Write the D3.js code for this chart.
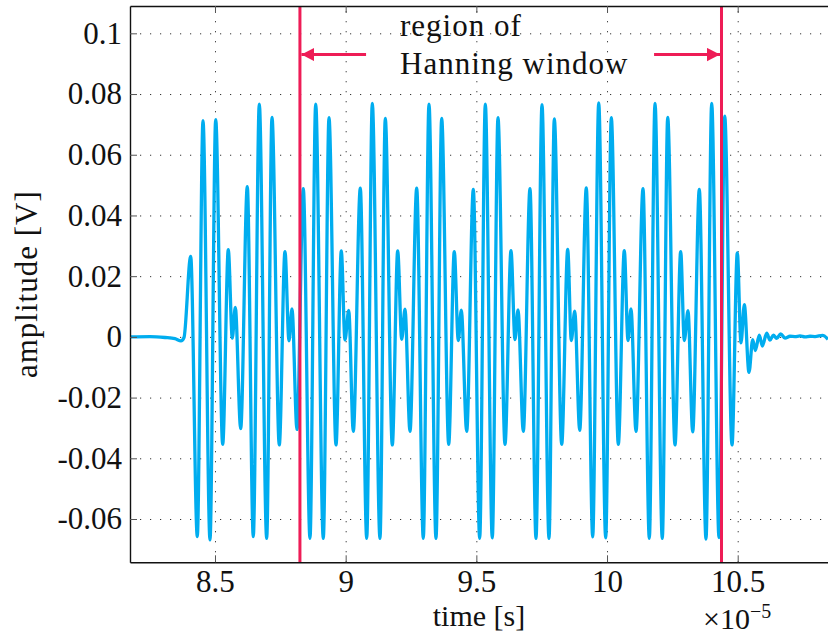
<!DOCTYPE html>
<html>
<head>
<meta charset="utf-8">
<script src="https://cdn.jsdelivr.net/npm/d3@7"></script>
<style>
  body { margin: 0; background: #fff; }
  svg { font-family: "Liberation Serif", "Times New Roman", serif; }
  .grid line { stroke: #333; stroke-width: 1; stroke-dasharray: 1.2,8.8; }
  .grid path { display: none; }
  .axis path { stroke: #111; stroke-width: 1.4; }
  .axis line { stroke: #555; stroke-width: 1; }
  .axis text { font-size: 31px; fill: #111; font-family: "Liberation Serif", serif; }
</style>
</head>
<body>
<svg id="chart"></svg>
<script>
// time values (x 1e-5 s)
const timeValues = [
  8.1748, 8.2513, 8.3087, 8.3469, 8.3699, 8.3814,
  8.4070, 8.4323, 8.4541, 8.4809, 8.5027, 8.5295, 8.5509, 8.5662, 8.5777, 8.5983,
  8.6236, 8.6465, 8.6695, 8.6978, 8.7181, 8.7460, 8.7678, 8.7831, 8.7946, 8.8138,
  8.8379, 8.8635, 8.8853, 8.9144, 8.9362, 8.9630, 8.9833, 8.9974, 9.0116, 9.0292,
  9.0560, 9.0805, 9.1019, 9.1313, 9.1516, 9.1784, 9.1991, 9.2144, 9.2270, 9.2461,
  9.2718, 9.2970, 9.3188, 9.3456, 9.3674, 9.3942, 9.4156, 9.4309, 9.4424, 9.4631,
  9.4884, 9.5128, 9.5343, 9.5610, 9.5828, 9.6096, 9.6326, 9.6479, 9.6594, 9.6797,
  9.7053, 9.7282, 9.7512, 9.7780, 9.7983, 9.8266, 9.8496, 9.8633, 9.8763, 9.8955,
  9.9207, 9.9452, 9.9682, 9.9949, 10.0164, 10.0432, 10.0661, 10.0803, 10.0917, 10.1109,
  10.1377, 10.1618, 10.1836, 10.2115, 10.2322, 10.2601, 10.2819, 10.2957, 10.3098, 10.3278,
  10.3531, 10.3787, 10.4005, 10.4285, 10.4503, 10.4782, 10.4985, 10.5126, 10.5253, 10.5432,
  10.5574, 10.5674, 10.5827, 10.5942, 10.6110, 10.6236, 10.6362, 10.6492, 10.6645, 10.6810,
  10.7001, 10.7192, 10.7384, 10.7575, 10.7767, 10.7958, 10.8253, 10.8455
];

// amplitude values (V)
const amplitudeValues = [
  0.0000, 0.0001, -0.0002, -0.0006, -0.0013, -0.0002,
  0.0265, -0.0658, 0.0712, -0.0669, 0.0716, -0.0354, 0.0287, -0.0004, 0.0097, -0.0302,
  0.0495, -0.0658, 0.0767, -0.0664, 0.0723, -0.0356, 0.0281, -0.0013, 0.0092, -0.0305,
  0.0488, -0.0664, 0.0767, -0.0664, 0.0722, -0.0356, 0.0283, -0.0010, 0.0087, -0.0311,
  0.0490, -0.0664, 0.0769, -0.0664, 0.0720, -0.0356, 0.0283, -0.0008, 0.0091, -0.0311,
  0.0490, -0.0664, 0.0767, -0.0664, 0.0720, -0.0354, 0.0281, -0.0012, 0.0088, -0.0311,
  0.0486, -0.0664, 0.0767, -0.0662, 0.0722, -0.0354, 0.0284, -0.0009, 0.0089, -0.0311,
  0.0488, -0.0664, 0.0765, -0.0664, 0.0718, -0.0354, 0.0288, -0.0012, 0.0085, -0.0308,
  0.0491, -0.0659, 0.0771, -0.0662, 0.0722, -0.0354, 0.0284, -0.0012, 0.0092, -0.0311,
  0.0488, -0.0664, 0.0769, -0.0664, 0.0723, -0.0356, 0.0281, -0.0012, 0.0086, -0.0313,
  0.0486, -0.0666, 0.0769, -0.0661, 0.0727, -0.0356, 0.0277, -0.0020, 0.0106, -0.0117,
  -0.0009, -0.0045, 0.0006, -0.0030, 0.0012, -0.0011, 0.0006, -0.0005, 0.0010, -0.0004,
  0.0002, 0.0001, 0.0003, 0.0000, 0.0002, 0.0001, 0.0005, -0.0008
];

// axis ticks
const xTicks = [8.5, 9, 9.5, 10, 10.5];
const xTickLabels = ['8.5', '9', '9.5', '10', '10.5'];
const yTicks = [-0.06, -0.04, -0.02, 0, 0.02, 0.04, 0.06, 0.08, 0.1];
const yTickLabels = ['-0.06', '-0.04', '-0.02', '0', '0.02', '0.04', '0.06', '0.08', '0.1'];

// Hanning window edges and annotation (data units)
const windowEdges = [8.825, 10.438];
const arrowTails = [9.078, 10.180];
const arrowLevel = 0.093;
const noteLines = ['region of', 'Hanning window'];
const noteX = 9.208;
const noteY = [0.0991, 0.0866];

const margin = { top: 6, right: 0, bottom: 74.7, left: 130 };
const width = 828 - margin.left - margin.right;
const height = 637 - margin.top - margin.bottom;

const svg = d3.select('#chart')
    .attr('width', 828)
    .attr('height', 637)
    .append('g')
    .attr('transform', `translate(${margin.left},${margin.top})`);

const x = d3.scaleLinear()
    .domain([8.1748, 10.8455])
    .range([0, width]);

const y = d3.scaleLinear()
    .domain([-0.07426, 0.109])
    .range([height, 0]);

// dotted grid
svg.append('g')
    .attr('class', 'grid')
    .attr('transform', `translate(0,${height})`)
    .call(d3.axisBottom(x).tickValues(xTicks).tickSize(-height).tickFormat(''));

svg.append('g')
    .attr('class', 'grid')
    .call(d3.axisLeft(y).tickValues(yTicks).tickSize(-width).tickFormat(''));

// clip so the signal stays inside the axes
svg.append('clipPath')
    .attr('id', 'plot-clip')
    .append('rect')
    .attr('width', width)
    .attr('height', height);

const line = d3.line()
    .x((d, i) => x(timeValues[i]))
    .y(d => y(d))
    .curve(d3.curveMonotoneX);

svg.append('path')
    .datum(amplitudeValues)
    .attr('clip-path', 'url(#plot-clip)')
    .attr('d', line)
    .attr('fill', 'none')
    .attr('stroke', '#00adef')
    .attr('stroke-width', 3.3)
    .attr('stroke-linejoin', 'round');

// window edges
const red = '#ee1c56';
svg.selectAll('.edge')
    .data(windowEdges)
    .enter().append('line')
    .attr('class', 'edge')
    .attr('x1', d => x(d))
    .attr('x2', d => x(d))
    .attr('y1', 0)
    .attr('y2', height)
    .attr('stroke', red)
    .attr('stroke-width', 3);

svg.append('defs').append('marker')
    .attr('id', 'head')
    .attr('markerUnits', 'userSpaceOnUse')
    .attr('markerWidth', 14)
    .attr('markerHeight', 14)
    .attr('refX', 13)
    .attr('refY', 6.7)
    .attr('orient', 'auto')
    .append('path')
    .attr('d', 'M0,0 L13,6.7 L0,13.4 Z')
    .attr('fill', red);

svg.selectAll('.arrow')
    .data(arrowTails)
    .enter().append('line')
    .attr('class', 'arrow')
    .attr('x1', d => x(d))
    .attr('x2', (d, i) => x(windowEdges[i]) + (i === 0 ? 1.5 : -1.5))
    .attr('y1', y(arrowLevel))
    .attr('y2', y(arrowLevel))
    .attr('stroke', red)
    .attr('stroke-width', 3)
    .attr('marker-end', 'url(#head)');

svg.selectAll('.note')
    .data(noteLines)
    .enter().append('text')
    .attr('class', 'note')
    .attr('x', x(noteX))
    .attr('y', (d, i) => y(noteY[i]))
    .style('font-size', '31px')
    .style('letter-spacing', '1px')
    .style('fill', '#111')
    .text(d => d);

// axes with inward ticks
svg.append('g')
    .attr('class', 'axis')
    .attr('transform', `translate(0,${height})`)
    .call(d3.axisBottom(x).tickValues(xTicks)
        .tickFormat((d, i) => xTickLabels[i])
        .tickSizeInner(-7).tickSizeOuter(0).tickPadding(8));

svg.append('g')
    .attr('class', 'axis')
    .call(d3.axisTop(x).tickValues(xTicks).tickFormat('')
        .tickSizeInner(-7).tickSizeOuter(0));

svg.append('g')
    .attr('class', 'axis')
    .call(d3.axisLeft(y).tickValues(yTicks)
        .tickFormat((d, i) => yTickLabels[i])
        .tickSizeInner(-7).tickSizeOuter(0).tickPadding(8));

// axis labels
svg.append('text')
    .attr('x', width / 2)
    .attr('y', height + 64)
    .style('text-anchor', 'middle')
    .style('font-size', '30px')
    .style('fill', '#111')
    .text('time [s]');

const expo = svg.append('text')
    .attr('x', x(10.5) - 0.5)
    .attr('y', height + 67)
    .style('text-anchor', 'middle')
    .style('font-size', '30px')
    .style('fill', '#111');
expo.append('tspan').text('×10');
expo.append('tspan')
    .attr('dy', -11)
    .style('font-size', '20px')
    .text('−5');

svg.append('text')
    .attr('transform', 'rotate(-90)')
    .attr('x', -height / 2)
    .attr('y', -margin.left + 37)
    .style('text-anchor', 'middle')
    .style('font-size', '31px')
    .style('letter-spacing', '1px')
    .style('fill', '#111')
    .text('amplitude [V]');
</script>
</body>
</html>
